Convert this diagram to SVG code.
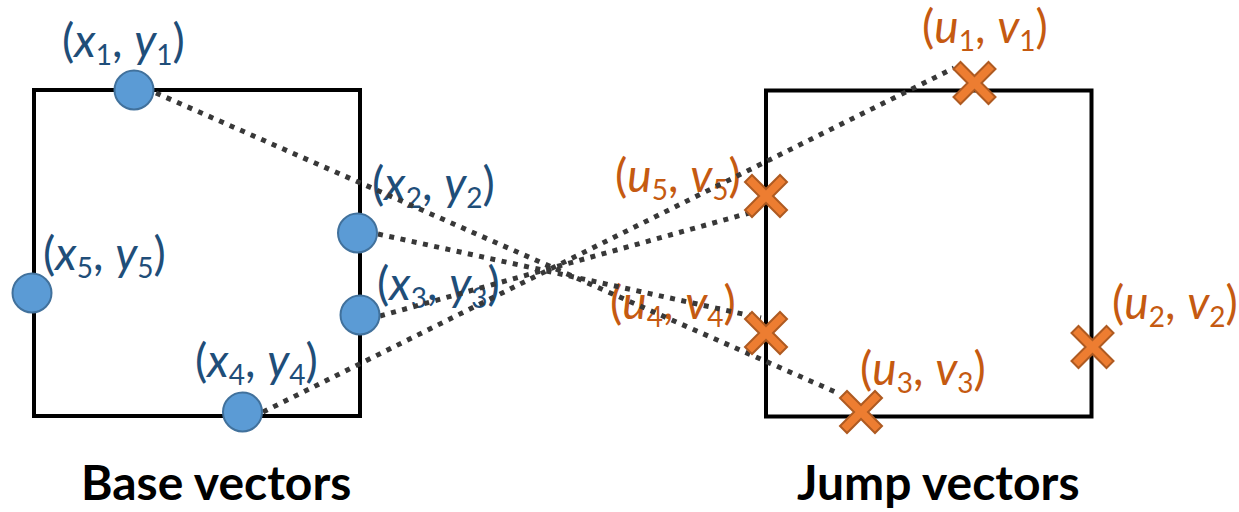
<svg xmlns="http://www.w3.org/2000/svg" xmlns:xlink="http://www.w3.org/1999/xlink" width="1239" height="512" viewBox="0 0 1239 512">
<style>
.frame{fill:none;stroke:#000;stroke-width:4}
.pt{fill:#5B9BD5;stroke:#41719C;stroke-width:2}
.xm{fill:#ED7D31;stroke:#AE5A21;stroke-width:2;stroke-linejoin:miter}
.lbl{font-family:Lato,"Liberation Sans",sans-serif;font-size:46px}
.blue{fill:#1F4E79}
.orange{fill:#C55A11}
.v{font-style:italic}
.s{font-size:28px}
.title{font-family:Lato,"Liberation Sans",sans-serif;font-weight:bold;font-size:48px;fill:#000}
.dot{fill:none;stroke:#383838;stroke-width:5;stroke-dasharray:5 6.5}
</style>
<defs>
<polygon id="xshape" points="0,-7 14,-21 21,-14 7,0 21,14 14,21 0,7 -14,21 -21,14 -7,0 -21,-14 -14,-21"/>
</defs>
<g id="base-frame"><rect class="frame" x="34" y="90" width="326" height="326"/></g>
<g id="jump-frame"><rect class="frame" x="766" y="90.5" width="325.5" height="326"/></g>
<g id="labels">
<text class="lbl blue" x="62" y="57">(<tspan class="v">x</tspan><tspan class="s" dy="8">1</tspan><tspan dy="-8">, </tspan><tspan class="v">y</tspan><tspan class="s" dy="8">1</tspan><tspan dy="-8">)</tspan></text>
<text class="lbl blue" x="372" y="200">(<tspan class="v">x</tspan><tspan class="s" dy="8">2</tspan><tspan dy="-8">, </tspan><tspan class="v">y</tspan><tspan class="s" dy="8">2</tspan><tspan dy="-8">)</tspan></text>
<text class="lbl blue" x="377" y="300">(<tspan class="v">x</tspan><tspan class="s" dy="8">3</tspan><tspan dy="-8">, </tspan><tspan class="v">y</tspan><tspan class="s" dy="8">3</tspan><tspan dy="-8">)</tspan></text>
<text class="lbl blue" x="195" y="377">(<tspan class="v">x</tspan><tspan class="s" dy="8">4</tspan><tspan dy="-8">, </tspan><tspan class="v">y</tspan><tspan class="s" dy="8">4</tspan><tspan dy="-8">)</tspan></text>
<text class="lbl blue" x="43" y="270">(<tspan class="v">x</tspan><tspan class="s" dy="8">5</tspan><tspan dy="-8">, </tspan><tspan class="v">y</tspan><tspan class="s" dy="8">5</tspan><tspan dy="-8">)</tspan></text>
<text class="lbl orange" x="922" y="43">(<tspan class="v">u</tspan><tspan class="s" dy="8">1</tspan><tspan dy="-8">, </tspan><tspan class="v">v</tspan><tspan class="s" dy="8">1</tspan><tspan dy="-8">)</tspan></text>
<text class="lbl orange" x="1112" y="319">(<tspan class="v">u</tspan><tspan class="s" dy="8">2</tspan><tspan dy="-8">, </tspan><tspan class="v">v</tspan><tspan class="s" dy="8">2</tspan><tspan dy="-8">)</tspan></text>
<text class="lbl orange" x="860" y="385">(<tspan class="v">u</tspan><tspan class="s" dy="8">3</tspan><tspan dy="-8">, </tspan><tspan class="v">v</tspan><tspan class="s" dy="8">3</tspan><tspan dy="-8">)</tspan></text>
<text class="lbl orange" x="610" y="319">(<tspan class="v">u</tspan><tspan class="s" dy="8">4</tspan><tspan dy="-8">, </tspan><tspan class="v">v</tspan><tspan class="s" dy="8">4</tspan><tspan dy="-8">)</tspan></text>
<text class="lbl orange" x="615" y="192">(<tspan class="v">u</tspan><tspan class="s" dy="8">5</tspan><tspan dy="-8">, </tspan><tspan class="v">v</tspan><tspan class="s" dy="8">5</tspan><tspan dy="-8">)</tspan></text>
</g>
<g id="connectors">
<line class="dot" x1="156" y1="93" x2="840" y2="394"/>
<line class="dot" x1="378" y1="234" x2="761" y2="318"/>
<line class="dot" x1="380" y1="316" x2="749" y2="213"/>
<line class="dot" x1="263" y1="412" x2="954" y2="68"/>
</g>
<g id="base1"><circle class="pt" cx="134" cy="90" r="19.5"/></g>
<g id="base2"><circle class="pt" cx="357.5" cy="233" r="19.5"/></g>
<g id="base3"><circle class="pt" cx="360" cy="315" r="19.5"/></g>
<g id="base4"><circle class="pt" cx="242.5" cy="412" r="19.5"/></g>
<g id="base5"><circle class="pt" cx="32" cy="293" r="19.5"/></g>
<g id="jump1"><use xlink:href="#xshape" class="xm" x="974.5" y="83"/></g>
<g id="jump2"><use xlink:href="#xshape" class="xm" x="1092.5" y="347"/></g>
<g id="jump3"><use xlink:href="#xshape" class="xm" x="861" y="412"/></g>
<g id="jump4"><use xlink:href="#xshape" class="xm" x="766" y="333"/></g>
<g id="jump5"><use xlink:href="#xshape" class="xm" x="766" y="196"/></g>
<g id="titles">
<text class="title" x="81" y="500">Base vectors</text>
<text class="title" x="797" y="500">Jump vectors</text>
</g>
</svg>
